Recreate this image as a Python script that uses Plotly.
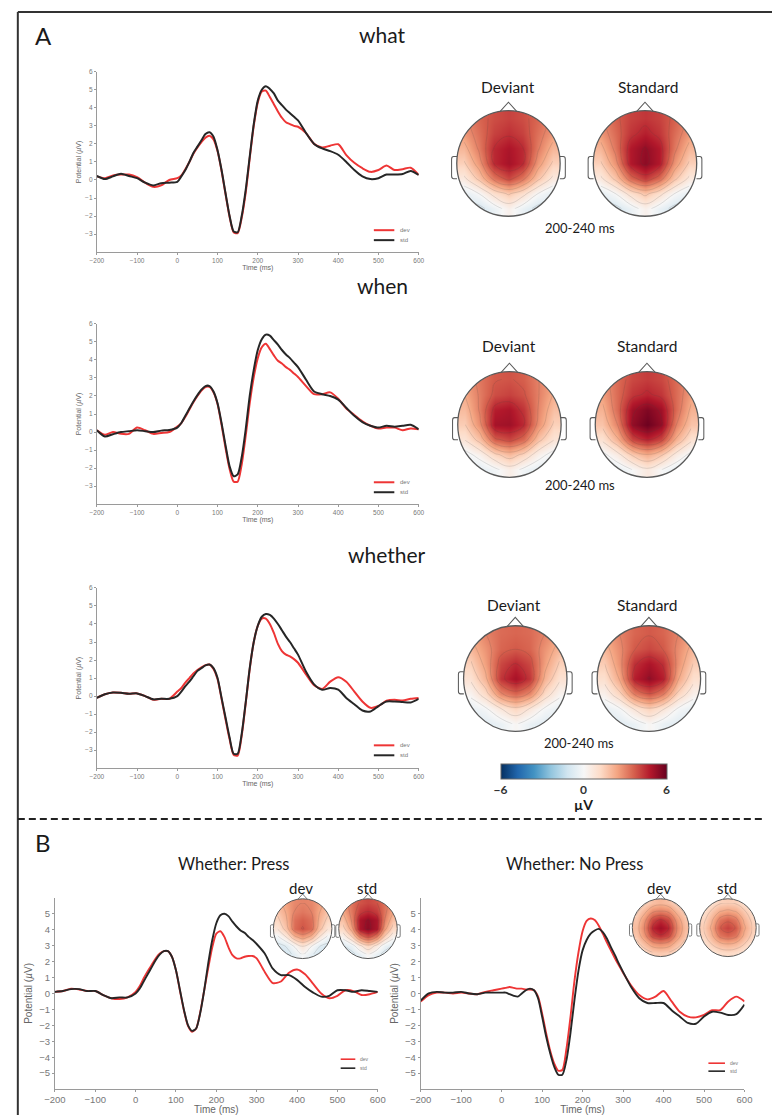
import numpy as np
import plotly.graph_objects as go

W, H = 772, 1115

# ---------------- DATA ----------------
times = list(range(-200, 1, 20)) + list(range(10, 301, 10)) + list(range(320, 601, 20))

what_dev = [0.2, 0.1, 0.25, 0.3, 0.3, 0.15, -0.15, -0.38, -0.3, 0.0, 0.1,
            0.25, 0.6, 1.0, 1.45, 1.8, 2.1, 2.35, 2.45, 2.25, 1.6, 0.5, -0.8, -2.05, -2.9, -2.95, -2.1, -0.7, 1.2, 3.0, 4.3,
            4.9, 4.95, 4.6, 4.2, 3.8, 3.45, 3.2, 3.1, 3.0, 2.95,
            2.6, 2.0, 1.8, 1.9, 1.98, 1.38, 0.95, 0.65, 0.45, 0.55, 0.8, 0.55, 0.6, 0.68, 0.28]
what_std = [0.22, 0.05, 0.2, 0.35, 0.22, 0.1, -0.15, -0.3, -0.18, -0.15, -0.1,
            0.2, 0.55, 1.0, 1.5, 1.85, 2.2, 2.55, 2.65, 2.4, 1.65, 0.55, -0.75, -2.0, -2.85, -2.9, -2.0, -0.55, 1.3, 3.1, 4.4,
            5.0, 5.2, 5.05, 4.8, 4.4, 4.15, 3.9, 3.7, 3.5, 3.3,
            2.6, 2.0, 1.75, 1.6, 1.4, 1.0, 0.55, 0.2, 0.05, 0.1, 0.3, 0.3, 0.33, 0.5, 0.28]
when_dev = [0.1, -0.15, 0.0, -0.1, -0.1, 0.25, 0.1, -0.1, -0.05, 0.0, 0.3,
            0.5, 0.85, 1.25, 1.65, 2.0, 2.3, 2.5, 2.5, 2.2, 1.55, 0.4, -0.9, -2.05, -2.75, -2.75, -1.8, -0.2, 1.6, 3.05, 4.1,
            4.7, 4.9, 4.6, 4.25, 3.95, 3.8, 3.6, 3.45, 3.25, 3.05,
            2.55, 2.1, 2.1, 2.2, 1.85, 1.3, 0.95, 0.6, 0.35, 0.2, 0.25, 0.25, 0.1, 0.2, 0.15]
when_std = [0.1, -0.25, -0.12, 0.0, 0.05, 0.1, 0.05, 0.0, 0.08, 0.12, 0.25,
            0.5, 0.9, 1.3, 1.7, 2.05, 2.35, 2.55, 2.55, 2.25, 1.6, 0.5, -0.75, -1.9, -2.45, -2.35, -1.4, 0.15, 2.0, 3.45, 4.55,
            5.15, 5.4, 5.35, 5.1, 4.85, 4.55, 4.3, 4.1, 3.85, 3.6,
            2.9, 2.25, 2.1, 2.0, 1.8, 1.35, 0.9, 0.55, 0.35, 0.25, 0.35, 0.3, 0.35, 0.4, 0.15]
whether_dev = [-0.1, 0.1, 0.2, 0.18, 0.13, 0.15, 0.0, -0.2, -0.15, -0.15, 0.25,
               0.45, 0.75, 1.0, 1.25, 1.45, 1.6, 1.72, 1.75, 1.5, 0.95, -0.15, -1.3, -2.4, -3.25, -3.3, -2.2, -0.4, 1.5, 3.0, 3.9,
               4.3, 4.3, 4.0, 3.5, 2.9, 2.5, 2.3, 2.2, 2.05, 1.85,
               1.2, 0.6, 0.4, 0.8, 1.05, 0.8, 0.25, -0.3, -0.65, -0.55, -0.25, -0.2, -0.25, -0.15, -0.1]
whether_std = [-0.1, 0.1, 0.2, 0.18, 0.13, 0.15, 0.0, -0.18, -0.15, -0.15, 0.0,
               0.25, 0.55, 0.8, 1.1, 1.4, 1.55, 1.7, 1.75, 1.55, 1.0, -0.1, -1.2, -2.3, -3.2, -3.2, -2.1, -0.35, 1.55, 3.0, 3.9,
               4.4, 4.55, 4.5, 4.3, 4.0, 3.65, 3.3, 3.0, 2.65, 2.3,
               1.35, 0.65, 0.35, 0.45, 0.36, -0.1, -0.45, -0.8, -0.85, -0.55, -0.3, -0.3, -0.33, -0.35, -0.15]
press_dev = [0.1, 0.15, 0.3, 0.25, 0.15, 0.15, -0.1, -0.3, -0.35, -0.25, 0.1,
             0.45, 0.95, 1.4, 1.8, 2.2, 2.5, 2.65, 2.65, 2.3, 1.45, 0.15, -1.1, -2.05, -2.4, -2.2, -1.2, 0.2, 1.6, 2.9, 3.75,
             3.9, 3.55, 2.9, 2.4, 2.2, 2.2, 2.3, 2.35, 2.35, 2.2,
             1.35, 0.65, 0.75, 1.3, 1.5, 1.2, 0.6, 0.0, -0.3, -0.15, 0.2, 0.15, -0.1, -0.05, 0.1]
press_std = [0.1, 0.15, 0.27, 0.27, 0.15, 0.15, -0.1, -0.3, -0.25, -0.25, 0.0,
             0.3, 0.75, 1.2, 1.65, 2.1, 2.45, 2.65, 2.65, 2.3, 1.45, 0.2, -1.05, -2.0, -2.35, -2.2, -1.25, 0.2, 1.9, 3.35, 4.4,
             4.9, 5.0, 4.85, 4.5, 4.2, 3.95, 3.8, 3.55, 3.35, 3.1,
             2.5, 1.55, 1.15, 1.15, 0.85, 0.4, 0.05, -0.2, -0.15, 0.2, 0.2, 0.1, 0.2, 0.15, 0.1]
nopress_dev = [-0.5, -0.1, 0.05, 0.05, 0.0, 0.05, 0.0, -0.05, 0.1, 0.2, 0.3,
               0.35, 0.4, 0.35, 0.3, 0.3, 0.25, 0.25, 0.2, -0.2, -1.25, -2.5, -3.6, -4.4, -4.85, -4.8, -3.5, -1.5, 0.8, 2.6, 3.9,
               4.55, 4.7, 4.6, 4.25, 3.75, 3.2, 2.7, 2.2, 1.75, 1.3,
               0.5, -0.1, -0.37, -0.2, 0.15, -0.5, -1.15, -1.45, -1.5, -1.35, -1.05, -1.05, -0.5, -0.2, -0.5]
nopress_std = [-0.45, 0.0, 0.1, 0.05, 0.05, 0.1, 0.0, -0.05, 0.05, 0.05, 0.05,
               0.05, -0.05, -0.15, -0.2, 0.0, 0.2, 0.3, 0.2, -0.3, -1.45, -2.7, -3.75, -4.6, -5.1, -5.1, -4.2, -2.5, -0.4, 1.45, 2.7,
               3.35, 3.75, 3.95, 4.05, 3.85, 3.45, 2.9, 2.4, 1.85, 1.35,
               0.4, -0.3, -0.6, -0.6, -0.6, -1.05, -1.45, -1.85, -1.9, -1.45, -1.15, -1.2, -1.35, -1.3, -0.7]

# Topographic maps: 7x7 grids, rows front (top) -> back (bottom), columns left -> right
topo_what_dev = [[2.9, 3.5, 3.9, 4.1, 3.9, 3.5, 2.9],
                 [2.6, 3.3, 4.1, 4.4, 4.1, 3.3, 2.6],
                 [2.0, 3.1, 4.5, 4.9, 4.5, 3.1, 2.0],
                 [1.4, 2.6, 4.5, 5.0, 4.5, 2.6, 1.4],
                 [0.6, 1.7, 3.2, 4.0, 3.2, 1.7, 0.6],
                 [-0.6, 0.0, 1.0, 1.6, 1.0, 0.0, -0.6],
                 [-1.0, -1.0, -0.4, 0.3, -0.4, -1.0, -1.0]]
topo_what_std = [[2.9, 3.6, 4.1, 4.3, 4.1, 3.6, 2.9],
                 [2.6, 3.4, 4.3, 4.7, 4.3, 3.4, 2.6],
                 [2.0, 3.2, 4.8, 5.3, 4.8, 3.2, 2.0],
                 [1.4, 2.7, 4.8, 5.4, 4.8, 2.7, 1.4],
                 [0.6, 1.7, 3.4, 4.2, 3.4, 1.7, 0.6],
                 [-0.6, 0.0, 1.0, 1.7, 1.0, 0.0, -0.6],
                 [-1.0, -1.0, -0.4, 0.3, -0.4, -1.0, -1.0]]
topo_when_dev = [[2.6, 3.2, 3.7, 3.8, 3.6, 3.0, 2.5],
                 [2.3, 3.1, 3.9, 4.1, 3.8, 3.0, 2.2],
                 [1.9, 3.1, 4.7, 4.9, 4.3, 2.9, 1.8],
                 [1.5, 2.8, 5.0, 5.1, 4.5, 2.7, 1.4],
                 [0.8, 1.8, 3.6, 4.0, 3.4, 1.7, 0.8],
                 [-0.3, 0.3, 1.3, 1.9, 1.3, 0.3, -0.3],
                 [-0.6, -0.6, -0.2, 0.4, -0.2, -0.6, -0.6]]
topo_when_std = [[2.7, 3.4, 4.0, 4.2, 4.0, 3.4, 2.7],
                 [2.5, 3.4, 4.3, 4.6, 4.3, 3.4, 2.5],
                 [2.1, 3.4, 5.1, 5.6, 5.1, 3.4, 2.1],
                 [1.7, 3.0, 5.3, 5.9, 5.3, 3.0, 1.7],
                 [0.9, 2.1, 4.0, 4.6, 4.0, 2.1, 0.9],
                 [-0.2, 0.5, 1.6, 2.2, 1.6, 0.5, -0.2],
                 [-0.6, -0.5, 0.0, 0.6, 0.0, -0.5, -0.6]]
topo_whether_dev = [[2.4, 3.0, 3.4, 3.5, 3.4, 3.0, 2.4],
                    [2.0, 2.7, 3.5, 3.7, 3.5, 2.7, 2.0],
                    [1.4, 2.5, 4.0, 4.5, 4.0, 2.5, 1.4],
                    [0.9, 2.1, 4.3, 5.0, 4.3, 2.1, 0.9],
                    [0.2, 1.2, 2.9, 3.5, 2.9, 1.2, 0.2],
                    [-0.5, -0.1, 0.7, 1.3, 0.7, -0.1, -0.5],
                    [-0.7, -0.7, -0.4, 0.1, -0.4, -0.7, -0.7]]
topo_whether_std = [[2.4, 3.0, 3.5, 3.7, 3.5, 3.0, 2.4],
                    [2.0, 2.8, 3.7, 4.0, 3.7, 2.8, 2.0],
                    [1.5, 2.7, 4.4, 4.9, 4.4, 2.7, 1.5],
                    [1.0, 2.3, 4.7, 5.3, 4.7, 2.3, 1.0],
                    [0.3, 1.3, 3.1, 3.8, 3.1, 1.3, 0.3],
                    [-0.5, -0.1, 0.8, 1.4, 0.8, -0.1, -0.5],
                    [-0.7, -0.7, -0.4, 0.1, -0.4, -0.7, -0.7]]
topo_press_dev = [[2.0, 2.5, 2.9, 3.0, 2.9, 2.5, 2.0],
                  [1.7, 2.3, 3.0, 3.2, 3.0, 2.3, 1.7],
                  [1.3, 2.1, 3.3, 3.6, 3.3, 2.1, 1.3],
                  [0.8, 1.8, 3.4, 3.8, 3.4, 1.8, 0.8],
                  [-0.2, 0.7, 2.0, 2.6, 2.0, 0.7, -0.2],
                  [-1.0, -0.7, 0.1, 0.8, 0.1, -0.7, -1.0],
                  [-1.2, -1.1, -0.6, 0.0, -0.6, -1.1, -1.2]]
topo_press_std = [[2.6, 3.3, 3.8, 4.0, 3.8, 3.3, 2.6],
                  [2.3, 3.2, 4.2, 4.5, 4.2, 3.2, 2.3],
                  [1.8, 3.0, 4.9, 5.3, 4.9, 3.0, 1.8],
                  [1.2, 2.5, 4.9, 5.4, 4.9, 2.5, 1.2],
                  [0.2, 1.3, 3.0, 3.8, 3.0, 1.3, 0.2],
                  [-0.8, -0.4, 0.6, 1.3, 0.6, -0.4, -0.8],
                  [-1.1, -1.0, -0.5, 0.1, -0.5, -1.0, -1.1]]
topo_nopress_dev = [[0.8, 1.3, 1.8, 2.0, 1.8, 1.3, 0.8],
                    [1.3, 2.0, 2.8, 3.0, 2.8, 2.0, 1.3],
                    [1.7, 2.7, 4.0, 4.5, 4.0, 2.7, 1.7],
                    [1.9, 3.0, 4.6, 5.1, 4.6, 3.0, 1.9],
                    [1.7, 2.7, 4.0, 4.4, 4.0, 2.7, 1.7],
                    [1.2, 1.9, 2.6, 2.8, 2.6, 1.9, 1.2],
                    [0.6, 1.1, 1.5, 1.6, 1.5, 1.1, 0.6]]
topo_nopress_std = [[0.6, 1.0, 1.4, 1.5, 1.4, 1.0, 0.6],
                    [1.0, 1.6, 2.2, 2.4, 2.2, 1.6, 1.0],
                    [1.3, 2.1, 3.2, 3.6, 3.2, 2.1, 1.3],
                    [1.5, 2.4, 3.7, 4.1, 3.7, 2.4, 1.5],
                    [1.3, 2.1, 3.2, 3.5, 3.2, 2.1, 1.3],
                    [0.9, 1.5, 2.0, 2.2, 2.0, 1.5, 0.9],
                    [0.5, 0.8, 1.1, 1.2, 1.1, 0.8, 0.5]]

x_ticks = [-200, -100, 0, 100, 200, 300, 400, 500, 600]
yA_ticks = [-3, -2, -1, 0, 1, 2, 3, 4, 5, 6]
yB_ticks = [-5, -4, -3, -2, -1, 0, 1, 2, 3, 4, 5]
cbar_ticks = [-6, 0, 6]

# ---------------- STYLE ----------------
RED = '#ee3535'
BLACK = '#262626'
AXC = '#9a9a9a'
TXT = '#1a1a1a'
FONT = 'Lato'
RDBU = [[0.0, '#053061'], [0.1, '#2166ac'], [0.2, '#4393c3'], [0.3, '#92c5de'], [0.4, '#d1e5f0'],
        [0.5, '#f7f7f7'], [0.6, '#fddbc7'], [0.7, '#f4a582'], [0.8, '#d6604d'], [0.9, '#b2182b'], [1.0, '#67001f']]


def PX(x):
    return x / W


def PY(y):
    return 1 - y / H


fig = go.Figure()
layout = dict(width=W, height=H, margin=dict(l=0, r=0, t=0, b=0), paper_bgcolor='white',
              plot_bgcolor='rgba(0,0,0,0)', showlegend=False, font=dict(family=FONT))
shapes = []
annotations = []

# ---------------- ERP PANELS ----------------
erp = [
    (what_dev, what_std, 88, 418, 68, 249, [-4, 6], yA_ticks, True),
    (when_dev, when_std, 88, 418, 321, 502, [-4, 6], yA_ticks, True),
    (whether_dev, whether_std, 88, 418, 586, 767, [-4, 6], yA_ticks, True),
    (press_dev, press_std, 45, 376, 897, 1089, [-6, 6], yB_ticks, False),
    (nopress_dev, nopress_std, 420, 752, 897, 1089, [-6, 6], yB_ticks, False),
]
for i, (dev, std, xl, xr, yt, yb, yr, yt_vals, small) in enumerate(erp):
    n = '' if i == 0 else str(i + 1)
    lw = 2.0 if small else 1.9
    for ser, col in ((dev, RED), (std, BLACK)):
        fig.add_trace(go.Scatter(x=times, y=ser, mode='lines', xaxis='x' + n, yaxis='y' + n,
                                 line=dict(color=col, width=lw, shape='spline', smoothing=0.7),
                                 hoverinfo='skip'))
    fs = 6.5 if small else 9.5
    common = dict(showline=True, linecolor=AXC, linewidth=1, ticks='outside', ticklen=2, tickcolor=AXC,
                  showgrid=False, zeroline=False, tickfont=dict(size=fs, color='#777', family='Arial'))
    layout['xaxis' + n] = dict(domain=[PX(xl), PX(xr)], range=[-200, 600], tickvals=x_ticks,
                               anchor='y' + n,
                               title=dict(text='Time (ms)', font=dict(size=fs + 0.5, color='#666', family='Arial'),
                                          standoff=1 if small else 2), **common)
    layout['yaxis' + n] = dict(domain=[PY(yb), PY(yt)], range=yr, tickvals=yt_vals, anchor='x' + n,
                               title=dict(text='Potential (<i>µ</i>V)',
                                          font=dict(size=fs + 0.5, color='#666', family='Arial'),
                                          standoff=2 if small else 4), **common)

# small legends (dev / std)
legends = [(372, 393, 227, 237, 397, 6, 2.0), (372, 393, 480, 490, 397, 6, 2.0), (372, 393, 744, 754, 397, 6, 2.0),
           (338, 353, 1059, 1068, 356, 5, 1.6), (715, 732, 1063, 1071, 735, 5, 1.6)]
for (x0, x1, yd, ys, xt, fsz, lw) in legends:
    for yy, col, lab in ((yd, RED, 'dev'), (ys, BLACK, 'std')):
        shapes.append(dict(type='line', xref='paper', yref='paper', x0=PX(x0), x1=PX(x1), y0=PY(yy), y1=PY(yy),
                           line=dict(color=col, width=lw)))
        annotations.append(dict(x=PX(xt), y=PY(yy), xref='paper', yref='paper', text=lab, showarrow=False,
                                xanchor='left', yanchor='middle', font=dict(size=fsz, color='#777', family='Arial')))

# ---------------- TOPOMAPS ----------------
edges = np.linspace(-1, 1, 8)
centers = (edges[:-1] + edges[1:]) / 2
theta = np.linspace(0, -2 * np.pi, 121)
circ = ' '.join(('M' if k == 0 else 'L') + f' {np.cos(t):.4f},{np.sin(t):.4f}' for k, t in enumerate(theta)) + ' Z'
mask_path = 'M -1.04,-1.04 L 1.04,-1.04 L 1.04,1.04 L -1.04,1.04 Z ' + circ

heads = [
    (topo_what_dev, 510, 160, 53), (topo_what_std, 650, 160, 53),
    (topo_when_dev, 511, 422, 53), (topo_when_std, 652, 422, 53),
    (topo_whether_dev, 517, 677, 53), (topo_whether_std, 654, 677, 53),
    (topo_press_dev, 299, 928, 30), (topo_press_std, 366, 928, 30),
    (topo_nopress_dev, 666, 927, 29), (topo_nopress_std, 735, 927, 29),
]
for j, (grid, cx, cy, r) in enumerate(heads):
    n = str(6 + j)
    z = np.array(grid)[::-1]
    first = (j == 0)
    fig.add_trace(go.Heatmap(x=centers, y=centers, z=z, zmin=-6, zmax=6, colorscale=RDBU, zsmooth='best',
                             xaxis='x' + n, yaxis='y' + n, hoverinfo='skip', showscale=first,
                             colorbar=dict(orientation='h', x=PX(587), xanchor='center', y=PY(763), yanchor='top',
                                           len=166, lenmode='pixels', thickness=15, thicknessmode='pixels',
                                           xpad=0, ypad=0, tickvals=cbar_ticks, ticks='',
                                           tickfont=dict(size=12, color='#333', family=FONT, weight='bold'),
                                           outlinecolor='#666', outlinewidth=1) if first else None))
    fig.add_trace(go.Contour(x=centers, y=centers, z=z, xaxis='x' + n, yaxis='y' + n, showscale=False,
                             contours=dict(coloring='lines', start=-6, end=6, size=0.75),
                             colorscale=[[0, 'rgba(70,70,70,0.3)'], [1, 'rgba(70,70,70,0.3)']],
                             line=dict(width=0.5, smoothing=1.3), hoverinfo='skip'))
    half = 1.2 * r
    layout['xaxis' + n] = dict(domain=[PX(cx - half), PX(cx + half)], range=[-1.2, 1.2], visible=False,
                               anchor='y' + n, fixedrange=True)
    layout['yaxis' + n] = dict(domain=[PY(cy + half), PY(cy - half)], range=[-1.2, 1.2], visible=False,
                               anchor='x' + n, fixedrange=True)
    lwh = 1.3 if r > 40 else 1.0
    hc = '#5a5a5a'
    shapes.append(dict(type='path', xref='x' + n, yref='y' + n, path=mask_path, fillcolor='white',
                       fillrule='evenodd', line=dict(width=0), layer='above'))
    shapes.append(dict(type='circle', xref='x' + n, yref='y' + n, x0=-1, y0=-1, x1=1, y1=1,
                       line=dict(color=hc, width=lwh), layer='above'))
    shapes.append(dict(type='path', xref='x' + n, yref='y' + n, path='M -0.16,0.985 L 0,1.16 L 0.16,0.985',
                       line=dict(color=hc, width=lwh * 0.8), layer='above'))
    for s in (-1, 1):
        ear = (f'M {s*0.995},0.13 L {s*1.06},0.13 Q {s*1.1},0.13 {s*1.1},0.08 '
               f'L {s*1.1},-0.24 Q {s*1.1},-0.29 {s*1.06},-0.29 L {s*0.995},-0.29')
        shapes.append(dict(type='path', xref='x' + n, yref='y' + n, path=ear,
                           line=dict(color=hc, width=lwh * 0.8), layer='above'))


# ---------------- TEXT ----------------
def txt(x, y, s, size, bold=False, color=TXT):
    annotations.append(dict(x=PX(x), y=PY(y), xref='paper', yref='paper', text=s, showarrow=False,
                            xanchor='center', yanchor='middle',
                            font=dict(size=size, color=color, family=FONT, weight='bold' if bold else 'normal')))


txt(33, 32, 'A', 24)
txt(33, 842, 'B', 24)
txt(381, 31, 'what', 21)
txt(381, 283, 'when', 21)
txt(385, 552, 'whether', 21)
for (xd, xs, yy) in ((510, 653, 83), (511, 652, 343), (516, 652, 603)):
    txt(xd, yy, 'Deviant', 15.5)
    txt(xs, yy, 'Standard', 15.5)
for (xm, ym) in ((583, 225), (583, 483), (582, 742)):
    txt(xm, ym, '200-240 ms', 13)
txt(587, 803, 'µV', 14, bold=True)
txt(228, 863, 'Whether: Press', 16.5)
txt(578, 863, 'Whether: No Press', 16.5)
for (xd, xs) in ((297, 365), (664, 734)):
    txt(xd, 887, 'dev', 15)
    txt(xs, 887, 'std', 15)

# ---------------- FRAME & SEPARATOR ----------------
shapes.append(dict(type='line', xref='paper', yref='paper', x0=PX(7), x1=1.02, y0=PY(8), y1=PY(8),
                   line=dict(color='#333', width=2)))
shapes.append(dict(type='line', xref='paper', yref='paper', x0=PX(7), x1=PX(7), y0=PY(8), y1=-0.02,
                   line=dict(color='#333', width=2)))
shapes.append(dict(type='line', xref='paper', yref='paper', x0=PX(7), x1=1.0, y0=PY(818), y1=PY(818),
                   line=dict(color='#222', width=2, dash='7px,4px')))

layout['shapes'] = shapes
layout['annotations'] = annotations
fig.update_layout(**layout)
fig.write_html('out.html')
